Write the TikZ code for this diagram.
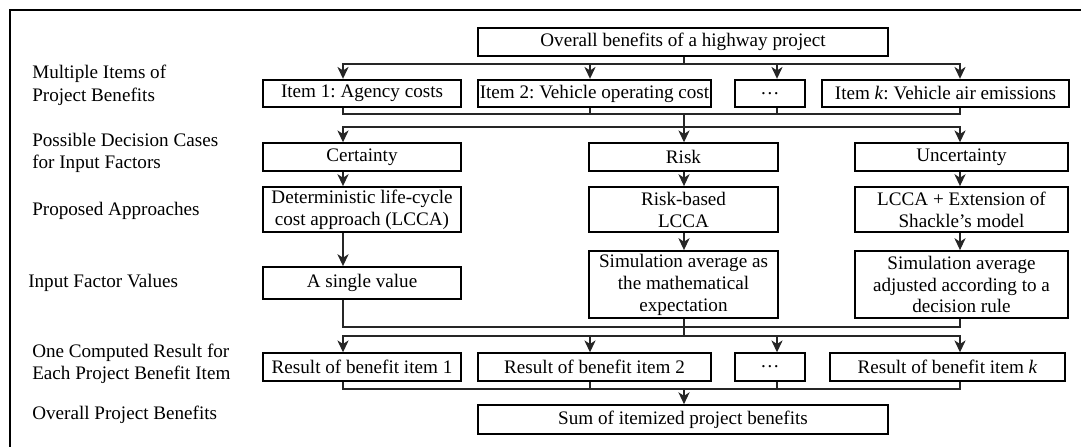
\documentclass[tikz,border=0pt]{standalone}
\usepackage{fontspec}
\setmainfont{Liberation Serif}
\usepackage{xcolor}
\usetikzlibrary{
    arrows.meta,
    positioning,
    calc
}
\newcommand{\boxfont}{\fontsize{13.6}{15.6}\selectfont\frenchspacing}

\begin{document}
\begin{tikzpicture}[
        x=0.025cm, y=-0.025cm,
        block/.style={draw, line width=1.3pt, minimum height=0.69cm, inner xsep=1pt, inner ysep=1pt, align=center, font=\boxfont},
        rowlabel/.style={anchor=west, align=left, inner sep=0pt, font=\boxfont},
        link/.style={line width=0.8pt, draw=black!85},
        arrow/.style={link, -{Stealth[length=8.5pt, width=8pt, inset=2.6pt]}}
    ]
        \useasboundingbox (0,0) rectangle (1081,447);
        % outer frame
        \draw[line width=2pt] (10,447) -- (10,10) -- (1081,10);

        % column and junction coordinates
        \coordinate (ca) at (343,0);
        \coordinate (cx2) at (590,0);
        \coordinate (cb) at (684,0);
        \coordinate (cx4) at (777,0);
        \coordinate (cc) at (960,0);
        \coordinate (j1) at (684,64);
        \coordinate (j2) at (684,114);
        \coordinate (j3) at (684,127);
        \coordinate (j4) at (684,327);
        \coordinate (j5) at (684,336);
        \coordinate (j6) at (684,389);

        % Row labels
        \node[rowlabel] (lbitems) at (32,85.5) {Multiple Items of\\[1pt]Project Benefits};
        \node[rowlabel] (lbcases) at (32,153) {Possible Decision Cases\\for Input Factors};
        \node[rowlabel] (lbappr) at (32,211) {Proposed Approaches};
        \node[rowlabel] (lbvalues) at (28,283) {Input Factor Values};
        \node[rowlabel] (lbresult) at (32,363.5) {One Computed Result for\\Each Project Benefit Item};
        \node[rowlabel] (lboverall) at (32,415) {Overall Project Benefits};

        % Top
        \node[block, minimum width=10.25cm] (top) at (683,42) {Overall benefits of a highway project};

        % Benefit items
        \node[block, minimum width=4.95cm] (item1) at (362,93.5) {Item 1: Agency costs};
        \node[block, minimum width=5.825cm] (item2) at (594.5,93.5) {Item 2: Vehicle operating cost};
        \node[block, minimum width=1.75cm] (dots1) at (770,93.5) {…};
        \node[block, minimum width=6.175cm] (itemk) at (945.5,93.5) {Item \textit{k}: Vehicle air emissions};

        % Decision cases
        \node[block, minimum width=4.95cm] (cert) at (362,157) {Certainty};
        \node[block, minimum width=4.725cm] (risk) at (683.5,157) {Risk};
        \node[block, minimum width=5.325cm] (unc) at (961.5,157) {Uncertainty};

        % Approaches
        \node[block, minimum width=4.95cm, minimum height=1.125cm] (det) at (362,209.5) {Deterministic life-cycle\\cost approach (LCCA)};
        \node[block, minimum width=4.725cm, minimum height=1.125cm] (rba) at (683.5,209.5) {Risk-based\\LCCA};
        \node[block, minimum width=5.325cm, minimum height=1.125cm] (shk) at (961.5,209.5) {LCCA + Extension of\\Shackle’s model};

        % Input factor values
        \node[block, minimum width=4.95cm, minimum height=0.8cm] (single) at (362,283) {A single value};
        \node[block, minimum width=4.725cm, minimum height=1.675cm] (sim) at (683.5,284.5) {Simulation average as\\the mathematical\\expectation};
        \node[block, minimum width=5.325cm, minimum height=1.675cm] (adj) at (961.5,284.5) {Simulation average\\adjusted according to a\\decision rule};

        % Results
        \node[block, minimum width=4.95cm] (res1) at (362,367) {Result of benefit item 1};
        \node[block, minimum width=5.825cm] (res2) at (594.5,367) {Result of benefit item 2};
        \node[block, minimum width=1.75cm] (dots2) at (770,367) {…};
        \node[block, minimum width=5.875cm] (resk) at (947.5,367) {Result of benefit item \textit{k}};

        % Sum
        \node[block, minimum width=10.25cm, minimum height=0.72cm] (sum) at (683,419.5) {Sum of itemized project benefits};

        % Arrows - top to items
        \draw[link] (top.south -| cb) -- (j1);
        \draw[arrow] (j1) -| (ca |- item1.north);
        \draw[arrow] (j1) -| (cx2 |- item2.north);
        \draw[arrow] (j1) -| (cx4 |- dots1.north);
        \draw[arrow] (j1) -| (cc |- itemk.north);

        % Arrows - items to cases
        \draw[link] (ca |- item1.south) |- (j2);
        \draw[link] (cx2 |- item2.south) |- (j2);
        \draw[link] (cx4 |- dots1.south) |- (j2);
        \draw[link] (cc |- itemk.south) |- (j2);
        \draw[link] (j2) -- (j3);
        \draw[arrow] (j3) -| (ca |- cert.north);
        \draw[arrow] (j3) -- (cb |- risk.north);
        \draw[arrow] (j3) -| (cc |- unc.north);

        % Arrows - cases to approaches to values
        \draw[arrow] (ca |- cert.south) -- (ca |- det.north);
        \draw[arrow] (cb |- risk.south) -- (cb |- rba.north);
        \draw[arrow] (cc |- unc.south) -- (cc |- shk.north);
        \draw[arrow] (ca |- det.south) -- (ca |- single.north);
        \draw[arrow] (cb |- rba.south) -- (cb |- sim.north);
        \draw[arrow] (cc |- shk.south) -- (cc |- adj.north);

        % Arrows - values to results
        \draw[link] (ca |- single.south) |- (j4);
        \draw[link] (cb |- sim.south) -- (j4);
        \draw[link] (cc |- adj.south) |- (j4);
        \draw[link] (j4) -- (j5);
        \draw[arrow] (j5) -| (ca |- res1.north);
        \draw[arrow] (j5) -| (cx2 |- res2.north);
        \draw[arrow] (j5) -| (cx4 |- dots2.north);
        \draw[arrow] (j5) -| (cc |- resk.north);

        % Arrows - results to sum
        \draw[link] (ca |- res1.south) |- (j6);
        \draw[link] (cx2 |- res2.south) |- (j6);
        \draw[link] (cx4 |- dots2.south) |- (j6);
        \draw[link] (cc |- resk.south) |- (j6);
        \draw[arrow] (j6) -- (cb |- sum.north);
    \end{tikzpicture}
\end{document}
